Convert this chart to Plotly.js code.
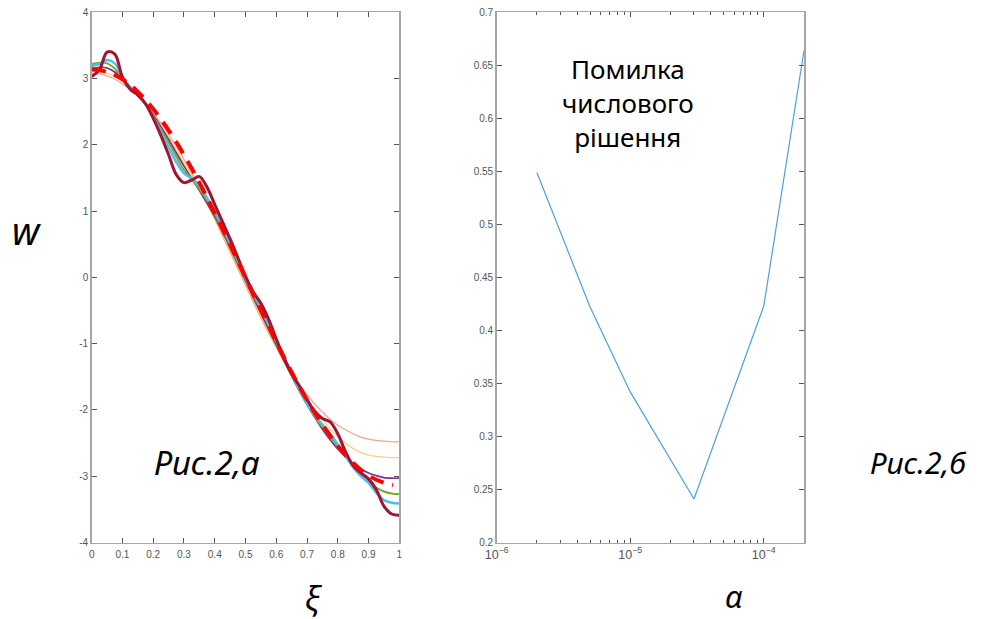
<!DOCTYPE html>
<html>
<head>
<meta charset="utf-8">
<script src="https://cdn.plot.ly/plotly-3.0.1.min.js"></script>
<style>html,body{margin:0;padding:0;background:#fff;}#chart{width:988px;height:619px;}</style>
</head>
<body>
<div id="chart"></div>
<script>
// ---- data: left panel (w vs xi) ----
const xiGrid = [0,0.025,0.05,0.075,0.1,0.125,0.15,0.175,0.2,0.225,0.25,0.275,0.3,0.325,0.35,0.375,0.4,0.425,0.45,0.475,0.5,0.525,0.55,0.575,0.6,0.625,0.65,0.675,0.7,0.725,0.75,0.775,0.8,0.825,0.85,0.875,0.9,0.925,0.95,0.975,1];
const wSalmon = [3.08,3.07,3.04,2.99,2.92,2.84,2.74,2.62,2.48,2.33,2.16,1.98,1.78,1.57,1.35,1.12,0.88,0.63,0.38,0.13,-0.12,-0.37,-0.61,-0.84,-1.05,-1.25,-1.44,-1.61,-1.77,-1.91,-2.03,-2.14,-2.23,-2.30,-2.36,-2.41,-2.44,-2.46,-2.47,-2.48,-2.48];
const wYellow = [3.11,3.10,3.08,3.03,2.96,2.87,2.76,2.63,2.47,2.30,2.12,1.93,1.73,1.53,1.32,1.10,0.88,0.64,0.40,0.15,-0.10,-0.35,-0.59,-0.83,-1.06,-1.28,-1.49,-1.69,-1.88,-2.03,-2.15,-2.29,-2.40,-2.50,-2.58,-2.64,-2.68,-2.70,-2.71,-2.72,-2.72];
const wPurple = [3.15,3.17,3.16,3.10,3.00,2.88,2.76,2.62,2.45,2.27,2.08,1.88,1.68,1.49,1.31,1.12,0.92,0.69,0.45,0.20,-0.05,-0.30,-0.54,-0.78,-1.02,-1.26,-1.49,-1.71,-1.92,-2.11,-2.29,-2.45,-2.59,-2.71,-2.81,-2.89,-2.95,-2.99,-3.02,-3.03,-3.03];
const wGreen = [3.22,3.24,3.23,3.15,3.01,2.87,2.75,2.61,2.43,2.23,2.03,1.82,1.62,1.48,1.33,1.16,0.96,0.73,0.49,0.23,-0.02,-0.26,-0.49,-0.73,-0.98,-1.23,-1.47,-1.70,-1.91,-2.10,-2.26,-2.41,-2.55,-2.69,-2.84,-2.97,-3.08,-3.17,-3.23,-3.26,-3.27];
const wCyan = [3.19,3.22,3.28,3.23,3.03,2.86,2.75,2.61,2.41,2.19,1.96,1.74,1.57,1.49,1.38,1.20,1.00,0.77,0.53,0.27,0.01,-0.23,-0.45,-0.69,-0.95,-1.21,-1.46,-1.69,-1.90,-2.08,-2.22,-2.36,-2.52,-2.69,-2.87,-3.00,-3.10,-3.25,-3.36,-3.40,-3.41];
const wDarkRed = [3.03,3.13,3.40,3.37,3.02,2.84,2.75,2.62,2.40,2.14,1.85,1.55,1.43,1.47,1.52,1.36,1.10,0.84,0.58,0.30,0.02,-0.22,-0.39,-0.63,-0.93,-1.21,-1.45,-1.64,-1.84,-2.02,-2.13,-2.18,-2.36,-2.63,-2.84,-2.95,-3.04,-3.20,-3.45,-3.57,-3.59];
const xiExact = [0,0.05,0.1,0.15,0.2,0.25,0.3,0.35,0.4,0.45,0.5,0.55,0.6,0.65,0.7,0.75,0.8,0.85,0.9,0.95,0.98];
const wExact = [3.14,3.10,2.99,2.80,2.54,2.22,1.85,1.43,0.97,0.49,0,-0.49,-0.97,-1.43,-1.85,-2.22,-2.54,-2.80,-2.99,-3.10,-3.13];
const leftXTicks = [0,0.1,0.2,0.3,0.4,0.5,0.6,0.7,0.8,0.9,1];
const leftXTickText = ["0","0.1","0.2","0.3","0.4","0.5","0.6","0.7","0.8","0.9","1"];
const leftYTicks = [-4,-3,-2,-1,0,1,2,3,4];
const leftYTickText = ["-4","-3","-2","-1","0","1","2","3","4"];

// ---- data: right panel (error vs alpha) ----
const alphaVals = [2e-6,5e-6,1e-5,3e-5,1e-4,2e-4];
const errVals = [0.549,0.422,0.342,0.241,0.423,0.664];
const rightYTicks = [0.2,0.25,0.3,0.35,0.4,0.45,0.5,0.55,0.6,0.65,0.7];
const rightYTickText = ["0.2","0.25","0.3","0.35","0.4","0.45","0.5","0.55","0.6","0.65","0.7"];

const seriesStyle = [
  {y: wSalmon, color: 'rgba(222,120,80,0.65)', width: 1.2},
  {y: wYellow, color: 'rgba(240,185,60,0.7)', width: 1.2},
  {y: wPurple, color: '#7e2f8e', width: 1.7},
  {y: wGreen, color: '#77ac30', width: 2},
  {y: wCyan, color: '#4dbeee', width: 2.5},
  {y: wDarkRed, color: '#a2142f', width: 3}
];

const traces = seriesStyle.map(s => ({
  x: xiGrid, y: s.y, type: 'scatter', mode: 'lines',
  line: {color: s.color, width: s.width, shape: 'spline', smoothing: 1},
  xaxis: 'x', yaxis: 'y', hoverinfo: 'skip'
}));
traces.push({
  x: xiExact, y: wExact, type: 'scatter', mode: 'lines',
  line: {color: '#ff0000', width: 4, dash: '14px,9px', shape: 'spline'},
  xaxis: 'x', yaxis: 'y', hoverinfo: 'skip'
});
traces.push({
  x: alphaVals, y: errVals, type: 'scatter', mode: 'lines',
  line: {color: '#4f9fdc', width: 1.2},
  xaxis: 'x2', yaxis: 'y2', hoverinfo: 'skip'
});

const tickFont = {family: 'Liberation Sans, Arial, sans-serif', size: 10, color: '#555555'};
const axisCommon = {
  showgrid: false, zeroline: false, showline: true, linecolor: '#a6a6a6', linewidth: 1.5,
  mirror: 'ticks', ticks: 'inside', ticklen: 5, tickwidth: 1, tickcolor: '#555555',
  tickfont: tickFont, fixedrange: true
};

const labelFont = 'Noto Sans, Open Sans, sans-serif';
const yDom = [1 - 542.5/619, 1 - 12.3/619];
const layout = {
  width: 988, height: 619,
  margin: {l: 0, r: 0, t: 0, b: 0},
  paper_bgcolor: '#ffffff', plot_bgcolor: '#ffffff',
  showlegend: false,
  xaxis: Object.assign({}, axisCommon, {
    domain: [91.7/988, 399.3/988], range: [0, 1],
    tickmode: 'array', tickvals: leftXTicks, ticktext: leftXTickText, anchor: 'y', ticklabelstandoff: 2
  }),
  yaxis: Object.assign({}, axisCommon, {
    domain: yDom, range: [-4, 4],
    tickmode: 'array', tickvals: leftYTicks, ticktext: leftYTickText, anchor: 'x'
  }),
  xaxis2: Object.assign({}, axisCommon, {
    domain: [496.7/988, 804/988], type: 'log', range: [-6, Math.log10(2e-4)],
    tickmode: 'linear', tick0: 0, dtick: 1, exponentformat: 'power', showexponent: 'all',
    anchor: 'y2',
    minor: {ticks: 'inside', ticklen: 3, tickcolor: '#555555', dtick: 'D1', showgrid: false}
  }),
  yaxis2: Object.assign({}, axisCommon, {
    domain: yDom, range: [0.2, 0.7],
    tickmode: 'array', tickvals: rightYTicks, ticktext: rightYTickText, anchor: 'x2'
  }),
  annotations: [
    {text: '<i>w</i>', xref: 'paper', yref: 'paper', x: 26/988, y: 1 - 230/619, xanchor: 'center', yanchor: 'middle', showarrow: false,
     font: {family: labelFont, size: 38, color: '#000'}},
    {text: '<i>Рис.2,а</i>', xref: 'paper', yref: 'paper', x: 207/988, y: 1 - 462/619, xanchor: 'center', yanchor: 'middle', showarrow: false,
     font: {family: labelFont, size: 33, color: '#000'}},
    {text: '<i>Рис.2,б</i>', xref: 'paper', yref: 'paper', x: 918/988, y: 1 - 462/619, xanchor: 'center', yanchor: 'middle', showarrow: false,
     font: {family: labelFont, size: 30, color: '#000'}},
    {text: '<i>ξ</i>', xref: 'paper', yref: 'paper', x: 313/988, y: 1 - 597/619, xanchor: 'center', yanchor: 'middle', showarrow: false,
     font: {family: labelFont, size: 32, color: '#000'}},
    {text: '<i>α</i>', xref: 'paper', yref: 'paper', x: 733/988, y: 1 - 596/619, xanchor: 'center', yanchor: 'middle', showarrow: false,
     font: {family: labelFont, size: 31, color: '#000'}},
    {text: 'Помилка<br>числового<br>рішення', xref: 'paper', yref: 'paper', x: 628/988, y: 1 - 103/619, xanchor: 'center', yanchor: 'middle', showarrow: false,
     align: 'center', font: {family: labelFont, size: 26, color: '#000'}}
  ]
};

Plotly.newPlot('chart', traces, layout, {staticPlot: true, displayModeBar: false});
</script>
</body>
</html>
